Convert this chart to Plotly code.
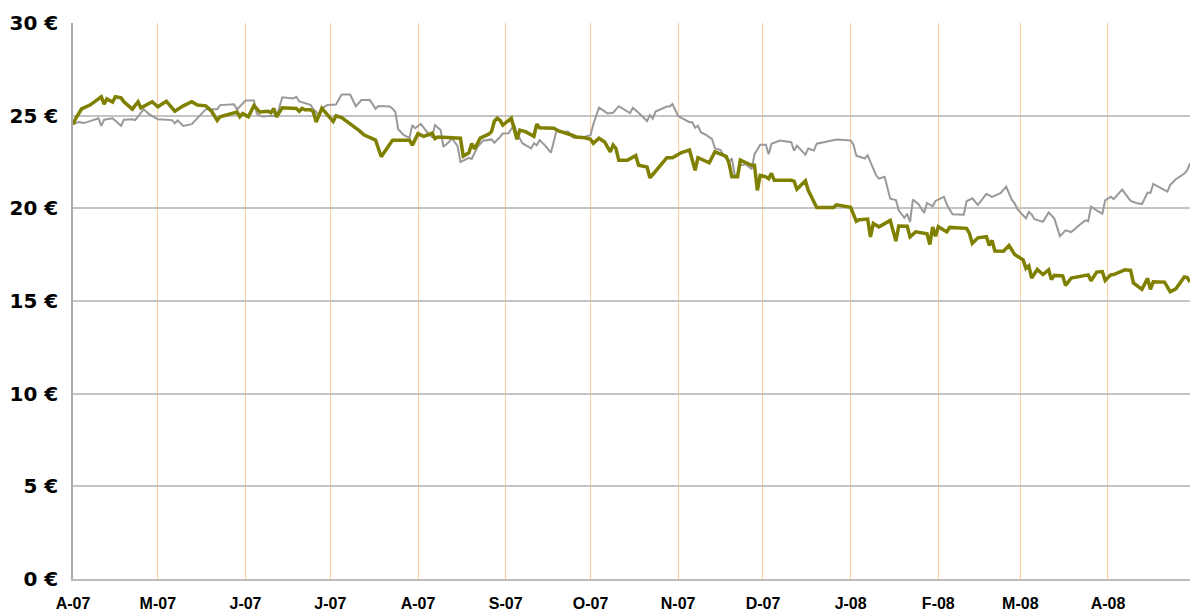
import plotly.graph_objects as go

# ---- data ----
olive_dates = [
    "2007-04-01", "2007-04-02", "2007-04-04", "2007-04-07", "2007-04-11", "2007-04-12", "2007-04-13",
    "2007-04-15", "2007-04-16", "2007-04-18", "2007-04-19", "2007-04-22", "2007-04-24", "2007-04-25",
    "2007-04-29", "2007-05-01", "2007-05-04", "2007-05-07", "2007-05-10", "2007-05-13", "2007-05-15",
    "2007-05-18", "2007-05-20", "2007-05-22", "2007-05-23", "2007-05-27", "2007-05-29", "2007-05-30",
    "2007-05-31", "2007-06-02", "2007-06-04", "2007-06-06", "2007-06-09", "2007-06-10", "2007-06-11",
    "2007-06-12", "2007-06-14", "2007-06-19", "2007-06-20", "2007-06-21", "2007-06-22", "2007-06-24",
    "2007-06-25", "2007-06-26", "2007-06-27", "2007-06-28", "2007-07-02", "2007-07-03", "2007-07-05",
    "2007-07-10", "2007-07-11", "2007-07-13", "2007-07-16", "2007-07-17", "2007-07-19", "2007-07-22",
    "2007-07-23", "2007-07-29", "2007-07-30", "2007-08-01", "2007-08-03", "2007-08-06", "2007-08-07",
    "2007-08-08", "2007-08-16", "2007-08-17", "2007-08-19", "2007-08-20", "2007-08-21", "2007-08-23",
    "2007-08-26", "2007-08-27", "2007-08-28", "2007-08-29", "2007-08-30", "2007-08-31", "2007-09-03",
    "2007-09-05", "2007-09-06", "2007-09-08", "2007-09-11", "2007-09-12", "2007-09-13", "2007-09-18",
    "2007-09-20", "2007-09-24", "2007-09-26", "2007-09-29", "2007-10-01", "2007-10-02", "2007-10-04",
    "2007-10-06", "2007-10-08", "2007-10-09", "2007-10-10", "2007-10-11", "2007-10-14", "2007-10-17",
    "2007-10-18", "2007-10-21", "2007-10-22", "2007-10-24", "2007-10-28", "2007-10-30", "2007-11-02",
    "2007-11-05", "2007-11-06", "2007-11-07", "2007-11-08", "2007-11-12", "2007-11-14", "2007-11-18",
    "2007-11-19", "2007-11-20", "2007-11-22", "2007-11-23", "2007-11-25", "2007-11-27", "2007-11-28",
    "2007-11-29", "2007-11-30", "2007-12-02", "2007-12-03", "2007-12-04", "2007-12-05", "2007-12-11",
    "2007-12-12", "2007-12-13", "2007-12-16", "2007-12-17", "2007-12-20", "2007-12-26", "2007-12-27",
    "2008-01-01", "2008-01-03", "2008-01-04", "2008-01-07", "2008-01-08", "2008-01-09", "2008-01-11",
    "2008-01-15", "2008-01-17", "2008-01-18", "2008-01-21", "2008-01-22", "2008-01-24", "2008-01-28",
    "2008-01-29", "2008-01-30", "2008-01-31", "2008-02-01", "2008-02-04", "2008-02-05", "2008-02-11",
    "2008-02-12", "2008-02-13", "2008-02-15", "2008-02-18", "2008-02-19", "2008-02-20", "2008-02-21",
    "2008-02-24", "2008-02-26", "2008-02-28", "2008-03-02", "2008-03-03", "2008-03-04", "2008-03-05",
    "2008-03-07", "2008-03-09", "2008-03-11", "2008-03-12", "2008-03-13", "2008-03-16", "2008-03-17",
    "2008-03-19", "2008-03-25", "2008-03-26", "2008-03-28", "2008-03-30", "2008-03-31", "2008-04-02",
    "2008-04-03", "2008-04-07", "2008-04-09", "2008-04-10", "2008-04-13", "2008-04-15", "2008-04-16",
    "2008-04-17", "2008-04-21", "2008-04-23", "2008-04-25", "2008-04-28", "2008-04-29", "2008-04-30",
]
olive_values = [
    24.53, 24.86, 25.36, 25.57, 26.02, 25.62, 25.90,
    25.73, 26.02, 25.96, 25.75, 25.35, 25.75, 25.42,
    25.75, 25.48, 25.78, 25.24, 25.53, 25.75, 25.57,
    25.53, 25.24, 24.74, 24.94, 25.10, 25.19, 24.94,
    25.12, 24.94, 25.54, 25.20, 25.24, 25.16, 25.39,
    24.94, 25.43, 25.39, 25.24, 25.39, 25.32, 25.32,
    25.20, 24.65, 25.08, 25.40, 24.69, 24.99, 24.90,
    24.35, 24.22, 23.95, 23.76, 23.68, 22.78, 23.46,
    23.68, 23.68, 23.41, 24.03, 23.88, 24.05, 23.76,
    23.85, 23.78, 22.82, 23.00, 23.50, 23.20, 23.79,
    24.00, 24.14, 24.70, 24.86, 24.76, 24.49, 24.86,
    23.73, 24.22, 24.14, 23.89, 24.54, 24.35, 24.32,
    24.16, 23.97, 23.85, 23.81, 23.73, 23.51, 23.78,
    23.58, 23.05, 23.41, 23.23, 22.59, 22.59, 22.84,
    22.32, 22.23, 21.65, 22.00, 22.73, 22.73, 23.00,
    23.15, 22.50, 22.05, 22.73, 22.46, 23.05, 22.81,
    22.42, 21.70, 21.70, 22.60, 22.46, 22.32, 22.32,
    20.97, 21.78, 21.70, 21.60, 21.89, 21.51, 21.51,
    21.46, 21.03, 21.49, 20.97, 20.05, 20.05, 20.19,
    20.06, 19.30, 19.38, 19.42, 18.46, 19.18, 19.00,
    19.35, 18.23, 19.05, 19.03, 18.46, 18.73, 18.63,
    18.05, 18.99, 18.49, 19.01, 18.73, 18.97, 18.92,
    18.65, 18.11, 18.41, 18.47, 18.00, 18.27, 17.70,
    17.68, 17.99, 17.51, 17.22, 16.76, 16.89, 16.24,
    16.70, 16.43, 16.68, 16.16, 16.38, 16.35, 15.84,
    16.24, 16.41, 16.09, 16.56, 16.59, 16.11, 16.41,
    16.43, 16.68, 16.65, 15.97, 15.63, 16.22, 15.63,
    16.04, 16.02, 15.50, 15.66, 16.30, 16.27, 16.02,
]

gray_dates = [
    "2007-04-01", "2007-04-03", "2007-04-05", "2007-04-10", "2007-04-11", "2007-04-12", "2007-04-15",
    "2007-04-18", "2007-04-19", "2007-04-22", "2007-04-23", "2007-04-26", "2007-04-28", "2007-04-30",
    "2007-05-01", "2007-05-06", "2007-05-07", "2007-05-08", "2007-05-10", "2007-05-13", "2007-05-15",
    "2007-05-18", "2007-05-22", "2007-05-23", "2007-05-28", "2007-05-29", "2007-06-01", "2007-06-04",
    "2007-06-05", "2007-06-07", "2007-06-11", "2007-06-12", "2007-06-14", "2007-06-18", "2007-06-19",
    "2007-06-20", "2007-06-24", "2007-06-25", "2007-06-26", "2007-06-27", "2007-06-28", "2007-06-30",
    "2007-07-03", "2007-07-04", "2007-07-05", "2007-07-08", "2007-07-10", "2007-07-12", "2007-07-15",
    "2007-07-17", "2007-07-18", "2007-07-22", "2007-07-23", "2007-07-24", "2007-07-25", "2007-07-27",
    "2007-07-29", "2007-07-30", "2007-07-31", "2007-08-02", "2007-08-05", "2007-08-06", "2007-08-07",
    "2007-08-09", "2007-08-10", "2007-08-12", "2007-08-13", "2007-08-15", "2007-08-16", "2007-08-19",
    "2007-08-20", "2007-08-22", "2007-08-24", "2007-08-27", "2007-08-28", "2007-08-30", "2007-08-31",
    "2007-09-02", "2007-09-04", "2007-09-05", "2007-09-07", "2007-09-10", "2007-09-11", "2007-09-12",
    "2007-09-13", "2007-09-15", "2007-09-17", "2007-09-19", "2007-09-20", "2007-09-23", "2007-09-25",
    "2007-09-28", "2007-10-01", "2007-10-02", "2007-10-04", "2007-10-07", "2007-10-09", "2007-10-11",
    "2007-10-15", "2007-10-16", "2007-10-18", "2007-10-21", "2007-10-22", "2007-10-23", "2007-10-24",
    "2007-10-28", "2007-10-29", "2007-10-30", "2007-11-01", "2007-11-05", "2007-11-06", "2007-11-07",
    "2007-11-08", "2007-11-09", "2007-11-11", "2007-11-13", "2007-11-14", "2007-11-16", "2007-11-17",
    "2007-11-19", "2007-11-20", "2007-11-21", "2007-11-22", "2007-11-23", "2007-11-25", "2007-11-27",
    "2007-11-28", "2007-11-29", "2007-11-30", "2007-12-02", "2007-12-03", "2007-12-04", "2007-12-07",
    "2007-12-11", "2007-12-12", "2007-12-13", "2007-12-16", "2007-12-17", "2007-12-19", "2007-12-20",
    "2007-12-27", "2008-01-01", "2008-01-02", "2008-01-03", "2008-01-06", "2008-01-07", "2008-01-10",
    "2008-01-11", "2008-01-13", "2008-01-15", "2008-01-17", "2008-01-18", "2008-01-20", "2008-01-21",
    "2008-01-22", "2008-01-23", "2008-01-25", "2008-01-27", "2008-01-28", "2008-01-30", "2008-01-31",
    "2008-02-03", "2008-02-04", "2008-02-06", "2008-02-10", "2008-02-11", "2008-02-13", "2008-02-15",
    "2008-02-18", "2008-02-20", "2008-02-23", "2008-02-25", "2008-02-27", "2008-02-28", "2008-02-29",
    "2008-03-03", "2008-03-04", "2008-03-05", "2008-03-06", "2008-03-09", "2008-03-11", "2008-03-13",
    "2008-03-15", "2008-03-17", "2008-03-19", "2008-03-22", "2008-03-24", "2008-03-25", "2008-03-26",
    "2008-03-28", "2008-03-30", "2008-03-31", "2008-04-02", "2008-04-03", "2008-04-06", "2008-04-09",
    "2008-04-11", "2008-04-13", "2008-04-15", "2008-04-16", "2008-04-17", "2008-04-22", "2008-04-23",
    "2008-04-25", "2008-04-28", "2008-04-29", "2008-04-30",
]
gray_values = [
    24.55, 24.65, 24.60, 24.86, 24.45, 24.78, 24.86,
    24.45, 24.78, 24.81, 24.76, 25.35, 25.07, 24.90,
    24.80, 24.76, 24.59, 24.74, 24.45, 24.54, 24.86,
    25.35, 25.35, 25.57, 25.62, 25.33, 25.82, 25.82,
    25.10, 24.95, 24.99, 24.94, 25.99, 25.93, 26.02,
    25.77, 25.59, 25.35, 25.20, 24.94, 25.40, 25.57,
    25.60, 25.84, 26.14, 26.14, 25.51, 25.84, 25.84,
    25.37, 25.52, 25.50, 25.38, 25.20, 24.27, 23.95,
    23.80, 24.49, 24.32, 24.55, 23.97, 23.85, 24.49,
    24.22, 23.32, 23.59, 23.78, 23.36, 22.50, 22.73,
    22.66, 23.31, 23.65, 23.72, 23.54, 23.85, 24.04,
    24.05, 24.51, 24.03, 23.50, 23.23, 23.51, 23.40,
    23.68, 23.38, 23.00, 24.20, 24.11, 24.14, 23.81,
    23.81, 23.95, 24.54, 25.44, 25.12, 25.16, 25.51,
    25.14, 25.42, 25.16, 24.71, 25.03, 24.84, 25.22,
    25.49, 25.50, 25.62, 24.98, 24.65, 24.65, 24.35,
    24.46, 24.11, 23.95, 23.73, 23.24, 23.14, 22.86,
    22.51, 22.69, 21.81, 21.81, 22.32, 22.38, 22.11,
    22.92, 23.17, 23.43, 23.43, 22.92, 23.48, 23.66,
    23.57, 23.11, 23.38, 22.89, 23.23, 23.12, 23.49,
    23.71, 23.66, 23.43, 22.84, 22.69, 22.86, 21.78,
    21.60, 21.70, 20.52, 20.45, 19.89, 19.49, 19.71,
    19.26, 20.47, 20.22, 19.75, 20.29, 20.11, 20.40,
    20.62, 20.20, 19.68, 19.66, 20.38, 20.54, 20.18,
    20.78, 20.62, 20.82, 21.17, 20.45, 20.27, 19.95,
    19.46, 19.81, 19.67, 19.41, 19.27, 19.78, 19.46,
    18.50, 18.81, 18.72, 19.11, 19.35, 19.30, 20.09,
    19.89, 19.71, 20.43, 20.63, 20.50, 21.01, 20.40,
    20.29, 20.23, 20.85, 20.83, 21.32, 20.90, 21.27,
    21.57, 21.88, 22.05, 22.42,
]

month_ticks = [
    "2007-04-01", "2007-05-01", "2007-06-01", "2007-07-01", "2007-08-01", "2007-09-01", "2007-10-01",
    "2007-11-01", "2007-12-01", "2008-01-01", "2008-02-01", "2008-03-01", "2008-04-01",
]
month_labels = ["A-07", "M-07", "J-07", "J-07", "A-07", "S-07", "O-07",
                "N-07", "D-07", "J-08", "F-08", "M-08", "A-08"]
y_ticks = [0, 5, 10, 15, 20, 25, 30]
y_labels = ["0 €", "5 €", "10 €", "15 €", "20 €", "25 €", "30 €"]

fig = go.Figure()
fig.add_trace(go.Scatter(x=gray_dates, y=gray_values, mode="lines", name="Indice",
                         line=dict(color="#999999", width=2)))
fig.add_trace(go.Scatter(x=olive_dates, y=olive_values, mode="lines", name="Cours",
                         line=dict(color="#808000", width=3.5)))

fig.update_layout(
    width=1190, height=613,
    margin=dict(l=73, r=0, t=23, b=34),
    paper_bgcolor="white", plot_bgcolor="white",
    showlegend=False,
)
fig.update_xaxes(
    range=["2007-04-01", "2008-04-30"],
    automargin=False,
    tickmode="array", tickvals=month_ticks, ticktext=month_labels,
    showgrid=True, gridcolor="#FFCC99", gridwidth=1,
    showline=True, linecolor="#BBBBBB", linewidth=2,
    ticks="", ticklabelstandoff=9,
    tickfont=dict(family="Liberation Sans, Arial", size=16, color="black", weight="bold"),
    zeroline=False,
)
fig.update_yaxes(
    range=[0, 30],
    automargin=False,
    tickmode="array", tickvals=y_ticks, ticktext=y_labels,
    showgrid=True, gridcolor="#C4C4C4", gridwidth=1.5,
    showline=True, linecolor="#AAAAAA", linewidth=1.5,
    ticks="", ticklabelstandoff=9,
    tickfont=dict(family="DejaVu Sans, Verdana", size=20, color="black", weight="bold"),
    zeroline=False,
)

# remove the default page margin so the figure fills the window exactly
fig.write_html(
    "out.html",
    config={"displayModeBar": False},
    post_script="document.body.style.margin='0';document.body.style.overflow='hidden';",
)
